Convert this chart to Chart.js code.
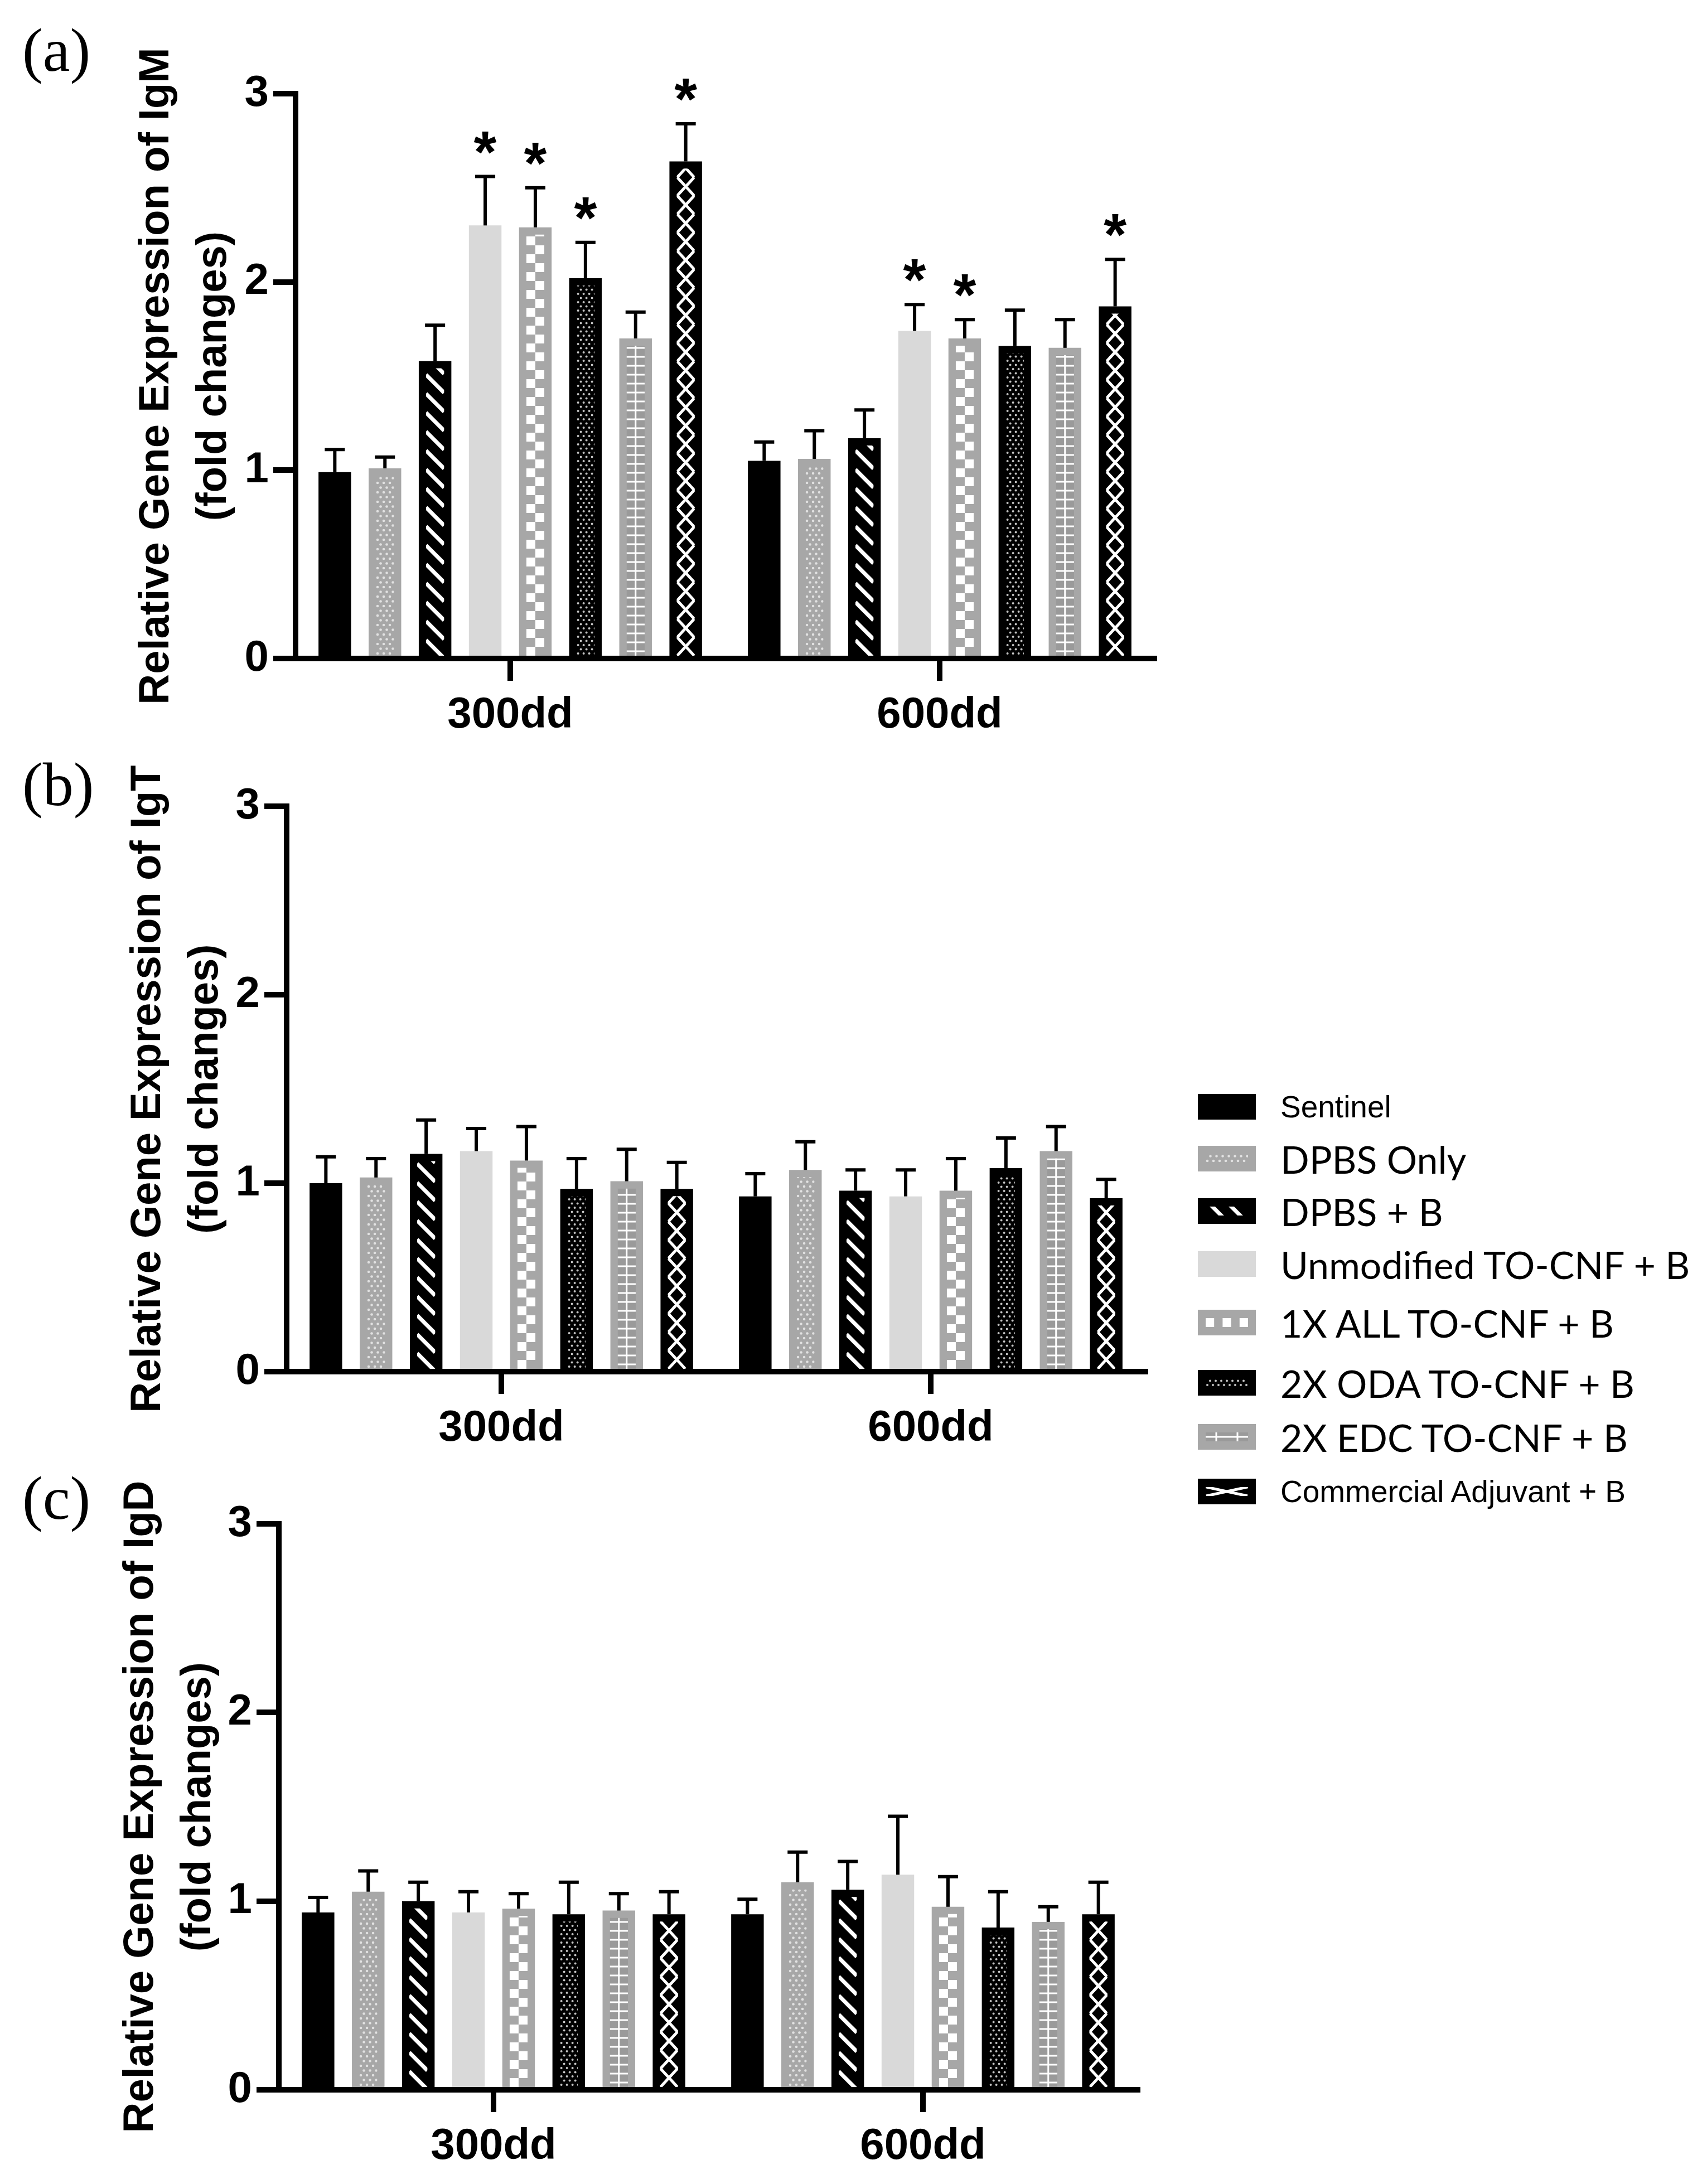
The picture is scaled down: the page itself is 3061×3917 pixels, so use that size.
<!DOCTYPE html>
<html>
<head>
<meta charset="utf-8">
<script src="https://cdn.jsdelivr.net/npm/chart.js@4.4.1/dist/chart.umd.min.js"></script>
<style>
html,body{margin:0;padding:0;background:#fff;}
body{width:3061px;height:3917px;position:relative;overflow:hidden;}
canvas.chart{position:absolute;left:0;}
.plabel{position:absolute;left:40px;font-family:"Liberation Serif",serif;font-size:110px;line-height:110px;color:#000;}
.lrow{position:absolute;left:2148px;height:46px;width:900px;}
.lrow canvas{position:absolute;left:0;top:0;}
.lrow span{position:absolute;left:148px;top:50%;transform:translateY(-50%);white-space:nowrap;color:#000;}
</style>
</head>
<body>
<div id="root"></div>
<script>
// ---------------- DATA ----------------
const categories = ['300dd', '600dd'];
const groups = ['Sentinel', 'DPBS Only', 'DPBS + B', 'Unmodified TO-CNF + B',
  '1X ALL TO-CNF + B', '2X ODA TO-CNF + B', '2X EDC TO-CNF + B', 'Commercial Adjuvant + B'];
const yTicks = [0, 1, 2, 3];

// IgM (panel a)
const igM_300     = [0.99, 1.01, 1.58, 2.30, 2.29, 2.02, 1.70, 2.64];
const igM_err_300 = [0.12, 0.06, 0.19, 0.26, 0.21, 0.19, 0.14, 0.20];
const igM_600     = [1.05, 1.06, 1.17, 1.74, 1.70, 1.66, 1.65, 1.87];
const igM_err_600 = [0.10, 0.15, 0.15, 0.14, 0.10, 0.19, 0.15, 0.25];
const igM_sig_300 = [false, false, false, true, true, true, false, true];
const igM_sig_600 = [false, false, false, true, true, false, false, true];

// IgT (panel b)
const igT_300     = [1.00, 1.03, 1.155, 1.17, 1.12, 0.97, 1.01, 0.97];
const igT_err_300 = [0.14, 0.10, 0.18, 0.12, 0.18, 0.16, 0.17, 0.14];
const igT_600     = [0.93, 1.07, 0.96, 0.93, 0.96, 1.08, 1.17, 0.92];
const igT_err_600 = [0.12, 0.15, 0.11, 0.14, 0.17, 0.16, 0.13, 0.10];
const igT_sig_300 = [false, false, false, false, false, false, false, false];
const igT_sig_600 = [false, false, false, false, false, false, false, false];

// IgD (panel c)
const igD_300     = [0.94, 1.05, 1.00, 0.94, 0.96, 0.93, 0.95, 0.93];
const igD_err_300 = [0.08, 0.11, 0.10, 0.11, 0.08, 0.17, 0.09, 0.12];
const igD_600     = [0.93, 1.10, 1.06, 1.14, 0.97, 0.86, 0.89, 0.93];
const igD_err_600 = [0.08, 0.16, 0.15, 0.31, 0.16, 0.19, 0.08, 0.17];
const igD_sig_300 = [false, false, false, false, false, false, false, false];
const igD_sig_600 = [false, false, false, false, false, false, false, false];

// ---------------- STYLE ----------------
const FILLS = ['#000000', '#a7a7a7', '#000000', '#d9d9d9', '#a7a7a7', '#000000', '#a7a7a7', '#000000'];
const KINDS = ['solid', 'dots', 'diag', 'solid', 'check', 'darkdots', 'ladder', 'xchain'];
const LEGEND_FONTS = ['55px "Liberation Sans"', '68px Lato', '68px Lato', '68px Lato',
  '68px Lato', '68px Lato', '68px Lato', '55px "Liberation Sans"'];
const LEGEND_Y = [1985, 2078, 2172, 2267, 2372, 2480, 2577, 2675];

const PANELS = [
  {label: '(a)', title: 'Relative Gene Expression of IgM', m: [igM_300, igM_600], e: [igM_err_300, igM_err_600], s: [igM_sig_300, igM_sig_600],
   top: 18, yTop: 168, y0: 1181, left: 530, right: 2070, t1: 281, labelTop: 35},
  {label: '(b)', title: 'Relative Gene Expression of IgT', m: [igT_300, igT_600], e: [igT_err_300, igT_err_600], s: [igT_sig_300, igT_sig_600],
   top: 1296, yTop: 1446, y0: 2460, left: 514, right: 2054, t1: 266, labelTop: 1352},
  {label: '(c)', title: 'Relative Gene Expression of IgD', m: [igD_300, igD_600], e: [igD_err_300, igD_err_600], s: [igD_sig_300, igD_sig_600],
   top: 2583, yTop: 2733, y0: 3748, left: 500, right: 2040, t1: 253, labelTop: 2632}
];
const CANVAS_W = 2150;
const XAXIS_H = 170;
const TITLE_SIZE = 76, TITLE_LH = 1.355;

// ---------------- PATTERNS ----------------
function drawPattern(ctx, kind, l, t, r, b, insetX, insetTop) {
  if (kind === 'solid') return;
  const il = l + insetX, ir = r - insetX, it = t + insetTop, ib = b;
  if (ir - il < 4 || ib - it < 4) return;
  const w = ir - il, h = ib - it;
  ctx.save();
  ctx.beginPath(); ctx.rect(il, it, w, h); ctx.clip();
  if (kind === 'dots' || kind === 'darkdots') {
    ctx.fillStyle = kind === 'dots' ? '#e2e2e2' : '#c4c4c4';
    const dx = kind === 'dots' ? 11 : 10, dy = kind === 'dots' ? 17 : 15, rad = kind === 'dots' ? 2.3 : 2.0;
    let row = 0;
    for (let yy = ib - 4; yy > it - dy; yy -= dy / 2, row++) {
      const off = (row % 2) ? dx / 2 : 0;
      for (let xx = il + 3 + off; xx < ir + dx; xx += dx) {
        ctx.beginPath(); ctx.arc(xx, yy, rad, 0, Math.PI * 2); ctx.fill();
      }
    }
  } else if (kind === 'diag') {
    ctx.strokeStyle = '#ffffff'; ctx.lineWidth = 7;
    for (let yy = ib + w + 40; yy > it - 40; yy -= 34) {
      ctx.beginPath(); ctx.moveTo(il, yy - w); ctx.lineTo(ir, yy); ctx.stroke();
    }
  } else if (kind === 'check') {
    ctx.fillStyle = '#ffffff';
    const cols = Math.max(2, Math.round(w / 16)), sw = w / cols, sh = 16;
    let row = 0;
    for (let yy = ib; yy > it - sh; yy -= sh, row++) {
      for (let c = 0; c < cols; c++) {
        if ((row + c) % 2 === 0) ctx.fillRect(il + c * sw, yy - sh, sw, sh);
      }
    }
  } else if (kind === 'ladder') {
    ctx.fillStyle = '#9a9a9a';
    ctx.fillRect(il, it, w, h);
    ctx.fillStyle = '#ffffff';
    for (let yy = ib - 8; yy > it - 16; yy -= 16) ctx.fillRect(il, yy - 1.5, w, 3);
    const cols = Math.max(1, Math.round(w / 32));
    for (let c = 0; c < cols; c++) ctx.fillRect(il + (c + 0.5) * w / cols - 1.5, it, 3, h);
  } else if (kind === 'xchain') {
    ctx.strokeStyle = '#ffffff'; ctx.lineWidth = 5;
    const P = Math.min(66, h * 2);
    for (let yy = ib + P; yy > it - P; yy -= P) {
      ctx.beginPath(); ctx.moveTo(il + 1, yy); ctx.lineTo(ir - 1, yy - P / 2); ctx.lineTo(il + 1, yy - P); ctx.stroke();
      ctx.beginPath(); ctx.moveTo(ir - 1, yy); ctx.lineTo(il + 1, yy - P / 2); ctx.lineTo(ir - 1, yy - P); ctx.stroke();
    }
  }
  ctx.restore();
}

const barDecor = {
  id: 'barDecor',
  afterDatasetsDraw(chart) {
    const ctx = chart.ctx, ys = chart.scales.y;
    chart.data.datasets.forEach((ds, i) => {
      chart.getDatasetMeta(i).data.forEach((el) => {
        const p = el.getProps(['x', 'y', 'base', 'width'], true);
        drawPattern(ctx, ds.kind, p.x - p.width / 2, Math.min(p.y, p.base), p.x + p.width / 2, Math.max(p.y, p.base), 13, 13);
      });
    });
    chart.data.datasets.forEach((ds, i) => {
      chart.getDatasetMeta(i).data.forEach((el, j) => {
        const p = el.getProps(['x', 'y'], true);
        const capY = ys.getPixelForValue(ds.data[j] + ds.errors[j]);
        ctx.save();
        ctx.strokeStyle = '#000'; ctx.lineWidth = 6;
        ctx.beginPath(); ctx.moveTo(p.x, p.y); ctx.lineTo(p.x, capY); ctx.stroke();
        ctx.beginPath(); ctx.moveTo(p.x - 18, capY); ctx.lineTo(p.x + 18, capY); ctx.stroke();
        if (ds.stars[j]) {
          ctx.fillStyle = '#000';
          ctx.font = 'bold 105px "Liberation Sans"';
          ctx.textAlign = 'center'; ctx.textBaseline = 'alphabetic';
          ctx.fillText('*', p.x, capY - 8);
        }
        ctx.restore();
      });
    });
  }
};

Chart.defaults.font.family = '"Liberation Sans", Arial, sans-serif';
Chart.defaults.color = '#000';

PANELS.forEach((pn) => {
  const lab = document.createElement('div');
  lab.className = 'plabel';
  lab.style.top = pn.labelTop + 'px';
  lab.textContent = pn.label;
  document.body.appendChild(lab);

  const H = (pn.y0 - pn.top) + XAXIS_H;
  const cv = document.createElement('canvas');
  cv.className = 'chart';
  cv.width = CANVAS_W; cv.height = H;
  cv.style.width = CANVAS_W + 'px'; cv.style.height = H + 'px';
  cv.style.top = pn.top + 'px';
  document.body.appendChild(cv);

  const datasets = groups.map((g, i) => ({
    label: g,
    data: [pn.m[0][i], pn.m[1][i]],
    errors: [pn.e[0][i], pn.e[1][i]],
    stars: [pn.s[0][i], pn.s[1][i]],
    kind: KINDS[i],
    backgroundColor: FILLS[i],
    borderWidth: 0,
    categoryPercentage: 0.934,
    barPercentage: 0.65
  }));

  new Chart(cv, {
    type: 'bar',
    data: {labels: categories, datasets},
    options: {
      responsive: false, animation: false, devicePixelRatio: 1,
      layout: {padding: {top: pn.yTop - pn.top, left: 0, right: CANVAS_W - pn.right, bottom: 0}},
      plugins: {legend: {display: false}, tooltip: {enabled: false}},
      scales: {
        x: {
          type: 'category', offset: true, z: 1,
          grid: {offset: false, drawOnChartArea: false, drawTicks: true, tickLength: 40, lineWidth: 10, color: '#000'},
          border: {display: true, width: 10, color: '#000'},
          ticks: {font: {size: 78, weight: 'bold'}, color: '#000', padding: 16, maxRotation: 0},
          afterFit(s) { s.height = XAXIS_H; }
        },
        y: {
          min: 0, max: 3, z: 1,
          afterBuildTicks(s) { s.ticks = yTicks.map(v => ({value: v})); },
          ticks: {font: {size: 78, weight: 'bold'}, color: '#000', padding: 8},
          grid: {drawOnChartArea: false, drawTicks: true, tickLength: 40, lineWidth: 10, color: '#000'},
          border: {display: true, width: 10, color: '#000'},
          title: {
            display: true, text: [pn.title, '(fold changes)'], color: '#000',
            font: {size: TITLE_SIZE, weight: 'bold', lineHeight: TITLE_LH},
            padding: {top: pn.t1 - TITLE_SIZE * TITLE_LH / 2, bottom: 0}
          },
          afterFit(s) { s.width = pn.left; }
        }
      }
    },
    plugins: [barDecor]
  });
});

// ---------------- LEGEND ----------------
groups.forEach((g, i) => {
  const row = document.createElement('div');
  row.className = 'lrow';
  row.style.top = (LEGEND_Y[i] - 23) + 'px';
  const sw = document.createElement('canvas');
  sw.width = 104; sw.height = 46;
  const c = sw.getContext('2d');
  c.fillStyle = FILLS[i];
  c.fillRect(0, 0, 104, 46);
  drawPattern(c, KINDS[i], 0, 15, 104, 31, 14, 0);
  const sp = document.createElement('span');
  sp.style.font = LEGEND_FONTS[i];
  sp.textContent = g;
  row.appendChild(sw); row.appendChild(sp);
  document.body.appendChild(row);
});
</script>
</body>
</html>
